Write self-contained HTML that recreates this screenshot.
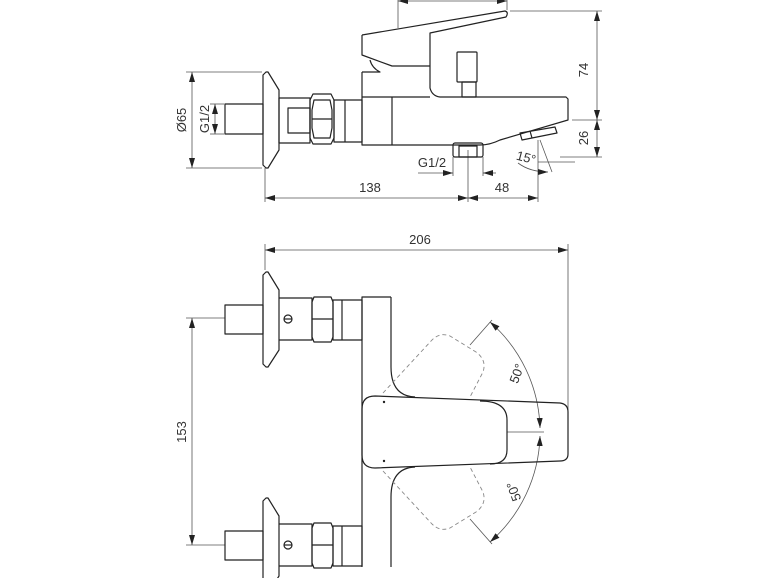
<!DOCTYPE html>
<html><head><meta charset="utf-8"><style>
html,body{margin:0;padding:0;background:#fff;width:770px;height:578px;overflow:hidden}
svg{display:block}
text{font-family:"Liberation Sans",sans-serif;font-size:13px;fill:#333}
</style></head><body>
<svg width="770" height="578" viewBox="0 0 770 578" xmlns="http://www.w3.org/2000/svg">
<defs>
<marker id="a" viewBox="0 0 10 6" refX="10" refY="3" markerWidth="10" markerHeight="6" orient="auto-start-reverse" markerUnits="userSpaceOnUse"><path d="M0,0 L10,3 L0,6 Z" fill="#222"/></marker>
</defs>
<g fill="none" stroke="#555" stroke-width="0.8">
<!-- top view dims -->
<line x1="398" y1="1" x2="507" y2="1" marker-start="url(#a)" marker-end="url(#a)"/>
<line x1="398" y1="0" x2="398" y2="28"/><line x1="507" y1="0" x2="507" y2="10"/>
<line x1="510" y1="11" x2="602" y2="11"/><line x1="572" y1="120" x2="602" y2="120"/><line x1="560" y1="157" x2="602" y2="157"/>
<line x1="597" y1="11" x2="597" y2="120" marker-start="url(#a)" marker-end="url(#a)"/>
<line x1="597" y1="120" x2="597" y2="157" marker-start="url(#a)" marker-end="url(#a)"/>
<line x1="192" y1="72" x2="192" y2="168" marker-start="url(#a)" marker-end="url(#a)"/>
<line x1="186" y1="72" x2="262" y2="72"/><line x1="186" y1="168" x2="262" y2="168"/>
<line x1="215" y1="104" x2="215" y2="134" marker-start="url(#a)" marker-end="url(#a)"/>
<line x1="210" y1="104" x2="224" y2="104"/><line x1="210" y1="134" x2="224" y2="134"/>
<line x1="265" y1="168" x2="265" y2="202"/><line x1="468" y1="150" x2="468" y2="202"/><line x1="538" y1="140" x2="538" y2="202"/>
<line x1="265" y1="198" x2="468" y2="198" marker-start="url(#a)" marker-end="url(#a)"/>
<line x1="468" y1="198" x2="538" y2="198" marker-start="url(#a)" marker-end="url(#a)"/>
<line x1="453" y1="157" x2="453" y2="176"/><line x1="483" y1="157" x2="483" y2="176"/>
<line x1="418" y1="173" x2="453" y2="173" marker-end="url(#a)"/>
<line x1="496" y1="173" x2="483" y2="173" marker-end="url(#a)"/>
<line x1="538" y1="162" x2="575" y2="162"/>
<line x1="540" y1="140" x2="552" y2="172"/>
<path d="M518,163 Q530,172 548,172" marker-end="url(#a)"/>
<!-- bottom view dims -->
<line x1="265" y1="250" x2="568" y2="250" marker-start="url(#a)" marker-end="url(#a)"/>
<line x1="265" y1="244" x2="265" y2="270"/><line x1="568" y1="244" x2="568" y2="440"/>
<line x1="192" y1="318" x2="192" y2="545" marker-start="url(#a)" marker-end="url(#a)"/>
<line x1="186" y1="318" x2="225" y2="318"/><line x1="186" y1="545" x2="225" y2="545"/>
<line x1="470" y1="345" x2="492" y2="320"/><line x1="470" y1="519" x2="492" y2="544"/>
<line x1="507" y1="432" x2="544" y2="432"/>
<path d="M490,322 A146,146 0 0 1 540,428" marker-start="url(#a)" marker-end="url(#a)"/>
<path d="M540,436 A146,146 0 0 1 490,542" marker-start="url(#a)" marker-end="url(#a)"/>
</g>
<g fill="none" stroke="#222" stroke-width="1.2" stroke-linejoin="round">
<!-- top view -->
<path d="M362,35 L505,11 Q509,12 506,17 L430,33 L430,88 Q432,96 440,97 L566,97 L568,99 L568,120 L500,140 Q490,145 480,145 L362,145 L362,72"/>
<path d="M362,35 L362,55 L392,66 L430,66"/>
<path d="M362,72 L380,72 Q372,68 370,60"/>
<path d="M362,97 L430,97"/>
<line x1="392" y1="97" x2="392" y2="145"/>
<rect x="457" y="52" width="20" height="30" rx="1"/>
<rect x="462" y="82" width="14" height="15"/>
<rect x="453" y="143" width="30" height="14" rx="2"/><rect x="459" y="146" width="18" height="11"/>
<path d="M520,133 L555,127 L557,133 L522,140 Z"/><line x1="530" y1="131" x2="532" y2="138"/>
<path d="M266,72 L263,75 L263,165 L266,168 L268,168 L279,150 L279,90 L268,72 Z"/>
<rect x="225" y="104" width="38" height="30"/>
<rect x="279" y="98" width="31" height="45"/><rect x="288" y="108" width="22" height="25"/>
<path d="M313,94 L331,94 L334,100 L334,138 L331,144 L313,144 L310,138 L310,100 Z"/>
<path d="M314,100 L330,100 L332,110 L332,128 L330,138 L314,138 L312,128 L312,110 Z"/>
<line x1="312" y1="119" x2="332" y2="119"/>
<rect x="334" y="100" width="28" height="42"/><line x1="345" y1="100" x2="345" y2="142"/>
<!-- bottom view -->
<path d="M391,297 L362,297 L362,567 M391,567 L391,497 Q391,468 415,467 M415,397 Q391,396 391,367 L391,297"/>
<path d="M375,396 L560,403 Q568,404 568,412 L568,454 Q568,461 560,461 L375,468 Q362,468 362,455 L362,409 Q362,396 375,396 Z"/>
<path d="M480,401 Q507,401 507,420 L507,450 Q507,464 490,464"/>
<g id="inl">
<path d="M266,272 L263,275 L263,364 L266,367 L268,367 L279,350 L279,290 L268,272 Z"/>
<rect x="225" y="305" width="38" height="29"/>
<path d="M279,298 L312,298 L312,340 L279,340"/>
<circle cx="288" cy="319" r="4"/><line x1="284" y1="319" x2="292" y2="319"/>
<path d="M314,297 L331,297 L333,302 L333,337 L331,342 L314,342 L312,337 L312,302 Z"/>
<line x1="312" y1="319" x2="333" y2="319"/>
<rect x="333" y="300" width="29" height="40"/><line x1="342" y1="300" x2="342" y2="340"/>
</g>
<use href="#inl" transform="translate(0,226)"/>
</g>
<g fill="none" stroke="#888" stroke-width="0.9" stroke-dasharray="4,3">
<path d="M383,393 L432,340 Q440,332 450,336 L476,352 Q487,360 483,372 L470,397"/>
<path d="M383,471 L432,524 Q440,532 450,528 L476,512 Q487,504 483,492 L470,467"/>
</g>
<circle cx="384" cy="402" r="1.2" fill="#222"/><circle cx="384" cy="461" r="1.2" fill="#222"/>
<text x="370" y="192" text-anchor="middle">138</text>
<text x="502" y="192" text-anchor="middle">48</text>
<text x="432" y="167" text-anchor="middle">G1/2</text>
<text x="526" y="162" text-anchor="middle" transform="rotate(15 526 158)">15°</text>
<text transform="translate(588,70) rotate(-90)" text-anchor="middle">74</text>
<text transform="translate(588,138) rotate(-90)" text-anchor="middle">26</text>
<text transform="translate(186,120) rotate(-90)" text-anchor="middle">Ø65</text>
<text transform="translate(209,119) rotate(-90)" text-anchor="middle">G1/2</text>
<text x="420" y="244" text-anchor="middle">206</text>
<text transform="translate(186,432) rotate(-90)" text-anchor="middle">153</text>
<text transform="translate(521,375) rotate(-70)" text-anchor="middle">50°</text>
<text transform="translate(518,490) rotate(-110)" text-anchor="middle">50°</text>
</svg>
</body></html>
